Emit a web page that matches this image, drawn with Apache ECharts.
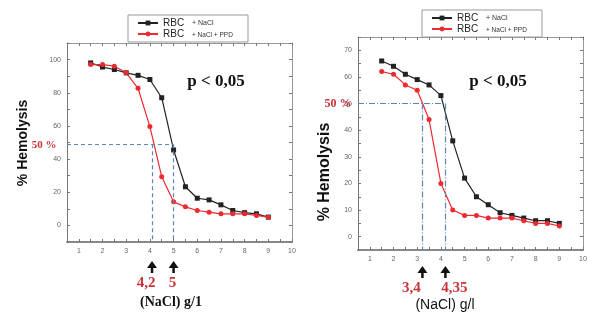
<!DOCTYPE html>
<html>
<head>
<meta charset="utf-8">
<script src="https://cdn.jsdelivr.net/npm/echarts@6/dist/echarts.min.js"></script>
<style>html,body{margin:0;padding:0;background:#fff}#c{width:600px;height:317px}</style>
</head>
<body>
<div id="c"></div>
<script>
// ---- data ----
var xValues = [1.5, 2, 2.5, 3, 3.5, 4, 4.5, 5, 5.5, 6, 6.5, 7, 7.5, 8, 8.5, 9];
var leftNaCl = [98, 95.5, 94, 92, 90.5, 88, 77, 45.5, 23.3, 16.4, 15.4, 12.4, 9, 7.7, 7, 5];
var leftPPD  = [97, 97, 96, 92, 82.7, 59.6, 29.3, 14.2, 11.2, 9, 8, 7, 7, 7, 6, 5];
var rightNaCl = [66, 64, 61, 59, 57, 53, 36, 22, 15, 12, 9, 8, 7, 6, 6, 5];
var rightPPD  = [62, 61, 57, 55, 44, 20, 10, 8, 8, 7, 7, 7, 6, 5, 5, 4];
var leftHalf = 49, rightHalf = 50;
var leftCutX = [4.09, 5.0], leftCutLabels = ['4,2', '5'];
var rightCutX = [3.22, 4.19], rightCutLabels = ['3,4', '4,35'];
var seriesNames = ['RBC + NaCl', 'RBC + NaCl + PPD'];
var xTickLabels = ['1','2','3','4','5','6','7','8','9','10'];
var leftYTickLabels = ['0','20','40','60','80','100'];
var rightYTickLabels = ['0','10','20','30','40','50','60','70'];

function pairs(ys){ return xValues.map(function(x,i){return [x, ys[i]];}); }

var chart = echarts.init(document.getElementById('c'));
var tickLbl = {fontSize: 7, color: '#666', margin: 6};
function xAx(grid, pos){
  return {type:'value', gridIndex:grid, position:pos, min:0.5, max:10, interval:0.5,
    splitLine:{show:false},
    axisLine:{onZero:false, lineStyle:{color: pos==='bottom' ? '#888' : '#999', width: pos==='bottom'?2:1}},
    axisTick:{inside:true, length:3, lineStyle:{color:'#777'}},
    axisLabel: pos==='bottom' ? Object.assign({formatter:function(v){var s=String(Math.round(v)); return (Math.abs(v-Math.round(v))<1e-6 && xTickLabels.indexOf(s)>=0)? s : '';}}, tickLbl) : {show:false}};
}
function yAx(grid, pos, min, max, iv, labels){
  return {type:'value', gridIndex:grid, position:pos, min:min, max:max, interval:iv,
    splitLine:{show:false},
    axisLine:{onZero:false, lineStyle:{color: pos==='left' ? '#777' : '#999', width:1}},
    axisTick:{inside:true, length:3, lineStyle:{color:'#777'}},
    axisLabel: pos==='left' ? Object.assign({formatter:function(v){var s=String(Math.round(v)); return labels.indexOf(s)>=0 && Math.abs(v-Math.round(v))<1e-6 ? s : '';}}, tickLbl) : {show:false}};
}
function cutLines(half, cuts, ymin, xmin, dash){
  var d = [[{coord:[xmin, half]},{coord:[cuts[1], half]}]];
  cuts.forEach(function(c){ d.push([{coord:[c, half]},{coord:[c, ymin]}]); });
  return {silent:true, symbol:['none','none'], label:{show:false},
    lineStyle:{color:'#5d86b5', width:1.2, type:dash}, data:d};
}
function lineSeries(name, data, xi, yi, color, sym, ml){
  var s = {name:name, type:'line', xAxisIndex:xi, yAxisIndex:yi, data:data,
    symbol:sym, symbolSize:5, showSymbol:true,
    lineStyle:{color:color, width:1.2}, itemStyle:{color:color}, z:3, animation:false};
  if (ml) s.markLine = ml;
  return s;
}
function legendCfg(left, top){
  return {left:left, top:top, orient:'vertical', data:seriesNames, itemWidth:20, itemHeight:6, itemGap:1,
    padding:[3,6,3,9], backgroundColor:'#fff', borderColor:'#999', borderWidth:1, z:10,
    formatter:function(n){ return n===seriesNames[0] ? '{a|RBC}{b|+ NaCl}' : '{a|RBC}{c|+ NaCl + PPD}'; },
    textStyle:{rich:{a:{fontSize:10, color:'#222', width:29, lineHeight:10, fontFamily:'Liberation Sans'},
      b:{fontSize:7, color:'#333', lineHeight:10, width:50}, c:{fontSize:6.5, color:'#333', lineHeight:10, width:50, padding:[3,0,0,0]}}}};
}

chart.setOption({
  animation:false,
  textStyle:{fontFamily:'Liberation Sans'},
  grid:[{left:67, top:43, width:225, height:199}, {left:358, top:37, width:225, height:213}],
  xAxis:[xAx(0,'bottom'), xAx(0,'top'), xAx(1,'bottom'), xAx(1,'top')],
  yAxis:[yAx(0,'left',-10,110,10,leftYTickLabels), yAx(0,'right',-10,110,10,leftYTickLabels),
         yAx(1,'left',-5,75,5,rightYTickLabels), yAx(1,'right',-5,75,5,rightYTickLabels)],
  legend:[legendCfg(128,15), legendCfg(422,10)],
  series:[
    lineSeries(seriesNames[0], pairs(leftNaCl), 0, 0, '#222', 'rect', cutLines(leftHalf, leftCutX, -10, 0.5, [4,3])),
    lineSeries(seriesNames[1], pairs(leftPPD), 0, 0, '#ec2a30', 'circle'),
    lineSeries(seriesNames[0], pairs(rightNaCl), 2, 2, '#222', 'rect', cutLines(rightHalf, rightCutX, -5, 0.5, [6,2,1,2])),
    lineSeries(seriesNames[1], pairs(rightPPD), 2, 2, '#ec2a30', 'circle')
  ]
});

function txt(x, y, text, font, fill, rot){
  return {type:'text', x:x, y:y, rotation:rot||0, z:20,
    style:{text:text, font:font, fill:fill, align:'center', verticalAlign:'middle', textAlign:'center', textVerticalAlign:'middle'}};
}
function arrow(x, yTop, yBot){
  return [{type:'line', z:20, shape:{x1:x, y1:yTop+4, x2:x, y2:yBot}, style:{stroke:'#111', lineWidth:2.5}},
          {type:'polygon', z:20, shape:{points:[[x, yTop-1],[x-5, yTop+6],[x+5, yTop+6]]}, style:{fill:'#111'}}];
}
var g = [];
g.push(txt(23, 143, '% Hemolysis', 'bold 14px Liberation Sans', '#111', Math.PI/2));
g.push(txt(325, 172, '% Hemolysis', 'bold 16px Liberation Sans', '#111', Math.PI/2));
g.push(txt(44, 145, '50 %', 'bold 11px Liberation Serif', '#c8343a'));
g.push(txt(338, 104, '50 %', 'bold 12px Liberation Serif', '#c8343a'));
g.push(txt(216, 82, 'p < 0,05', 'bold 17px Liberation Serif', '#111'));
g.push(txt(498, 82, 'p < 0,05', 'bold 17px Liberation Serif', '#111'));
leftCutX.forEach(function(c, i){
  var px = chart.convertToPixel({xAxisIndex:0}, c);
  g = g.concat(arrow(px, 262, 273));
  g.push(txt(px - (i===0?6:1), 283, leftCutLabels[i], 'bold 15px Liberation Serif', '#c8343a'));
});
rightCutX.forEach(function(c, i){
  var px = chart.convertToPixel({xAxisIndex:2}, c);
  g = g.concat(arrow(px, 267, 278));
  g.push(txt(px + (i===0?-11:9), 288, rightCutLabels[i], 'bold 15px Liberation Serif', '#c8343a'));
});
g.push(txt(171, 302, '(NaCl) g/1', 'bold 14px Liberation Serif', '#111'));
g.push(txt(445, 305, '(NaCl) g/l', '14px Liberation Sans', '#111'));
chart.setOption({graphic:{elements:g}});
</script>
</body>
</html>
